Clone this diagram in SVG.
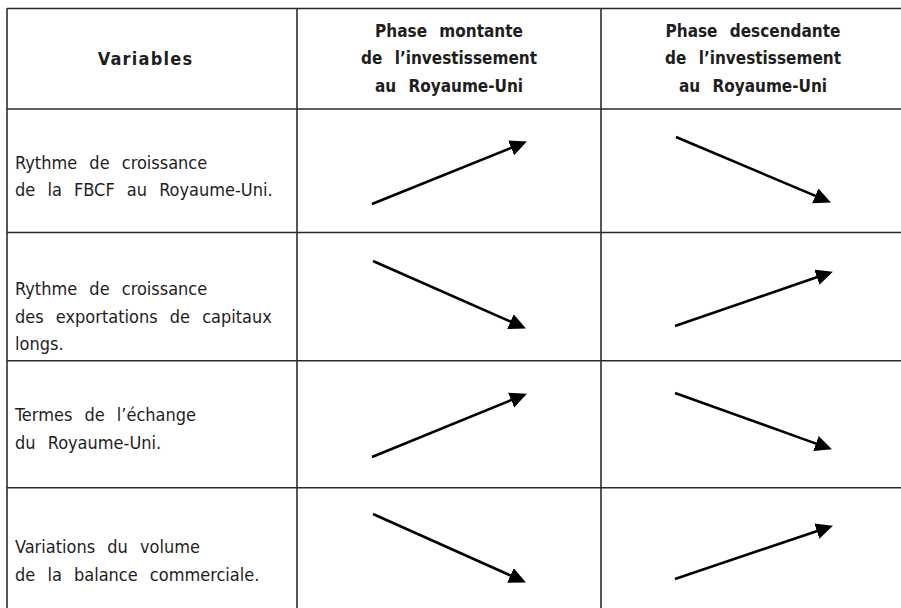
<svg xmlns="http://www.w3.org/2000/svg" width="901" height="608" viewBox="0 0 901 608">
<style>
.grid{stroke:#2b2b2b;stroke-width:1.6;fill:none}
.t{font-family:"DejaVu Sans Condensed","DejaVu Sans",sans-serif;font-stretch:condensed;font-size:18px;fill:#1e1e1e;word-spacing:7px}
.h{font-family:"DejaVu Sans Condensed","DejaVu Sans",sans-serif;font-stretch:condensed;font-weight:bold;font-size:17px;fill:#1e1e1e;word-spacing:7px;text-anchor:middle}
.arr{stroke:#000;stroke-width:2.6;fill:none;marker-end:url(#ah)}
</style>
<defs>
<marker id="ah" markerUnits="userSpaceOnUse" markerWidth="18" markerHeight="17" refX="6" refY="8" orient="auto" viewBox="0 0 18 17">
<path d="M0,0 L17,8 L0,16 z" fill="#000"/>
</marker>
</defs>
<rect width="901" height="608" fill="#fff"/>
<g id="table-grid" class="grid">
<line x1="7" y1="8.5" x2="901" y2="8.5"/>
<line x1="7" y1="8.5" x2="7" y2="608"/>
<line x1="297" y1="8.5" x2="297" y2="608"/>
<line x1="601" y1="8.5" x2="601" y2="608"/>
<line x1="7" y1="109" x2="901" y2="109"/>
<line x1="7" y1="232.5" x2="901" y2="232.5"/>
<line x1="7" y1="360.7" x2="901" y2="360.7"/>
<line x1="7" y1="487.7" x2="901" y2="487.7"/>
</g>
<g id="header-variables"><text class="h" x="145.5" y="64.5" style="font-size:18px;letter-spacing:1.2px">Variables</text></g>
<g id="header-montante">
<text class="h" x="449" y="36.5">Phase montante</text>
<text class="h" x="449" y="64">de l’investissement</text>
<text class="h" x="449" y="91.5">au Royaume-Uni</text>
</g>
<g id="header-descendante">
<text class="h" x="753" y="36.5">Phase descendante</text>
<text class="h" x="753" y="64">de l’investissement</text>
<text class="h" x="753" y="91.5">au Royaume-Uni</text>
</g>
<g id="row-fbcf">
<text class="t" x="15" y="169">Rythme de croissance</text>
<text class="t" x="15" y="196">de la FBCF au Royaume-Uni.</text>
</g>
<g id="row-capitaux">
<text class="t" x="15" y="295">Rythme de croissance</text>
<text class="t" x="15" y="322.5">des exportations de capitaux</text>
<text class="t" x="15" y="349.5">longs.</text>
</g>
<g id="row-termes">
<text class="t" x="15" y="421">Termes de l’échange</text>
<text class="t" x="15" y="449">du Royaume-Uni.</text>
</g>
<g id="row-balance">
<text class="t" x="15" y="553">Variations du volume</text>
<text class="t" x="15" y="581">de la balance commerciale.</text>
</g>
<g id="connectors">
<line class="arr" x1="372" y1="204" x2="516.7" y2="145.7"/>
<line class="arr" x1="373" y1="261" x2="515.9" y2="324"/>
<line class="arr" x1="372" y1="457" x2="516.7" y2="397.8"/>
<line class="arr" x1="373" y1="514" x2="515.9" y2="577.9"/>
<line class="arr" x1="676" y1="137" x2="820.8" y2="198.1"/>
<line class="arr" x1="675" y1="326" x2="822.5" y2="275.3"/>
<line class="arr" x1="675" y1="393" x2="821.6" y2="445.6"/>
<line class="arr" x1="675" y1="579" x2="822.5" y2="529.2"/>
</g>
</svg>
